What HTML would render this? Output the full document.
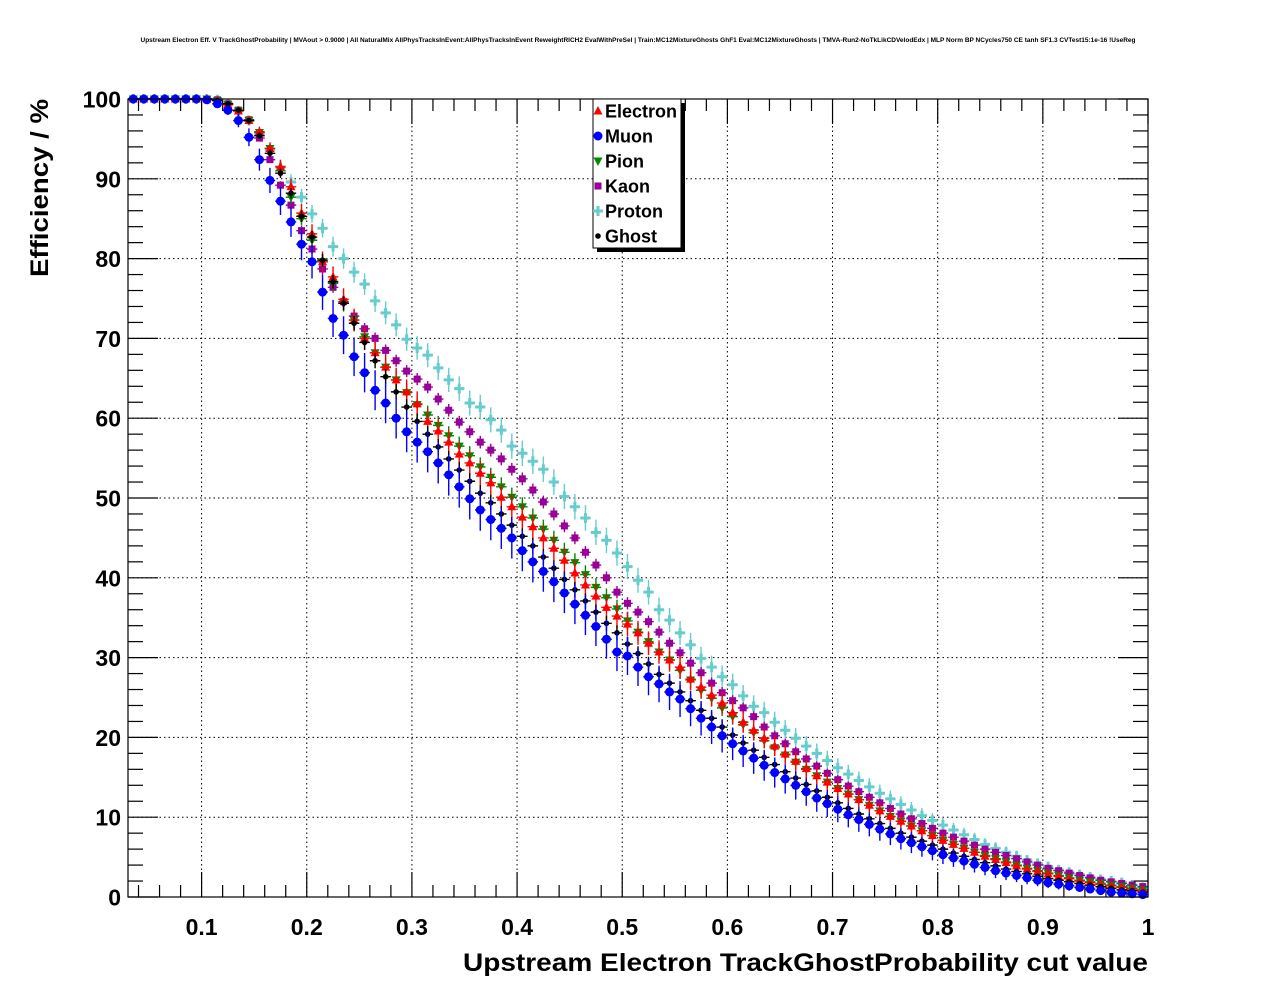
<!DOCTYPE html>
<html><head><meta charset="utf-8"><style>
html,body{margin:0;padding:0;background:#fff;}
svg{display:block;font-family:"Liberation Sans",sans-serif;}
</style></head><body>
<svg id="chart" width="1276" height="996" viewBox="0 0 1276 996" xmlns="http://www.w3.org/2000/svg">
<rect x="0" y="0" width="1276" height="996" fill="#fff"/>
<text x="638" y="42" font-size="6.5" font-weight="bold" text-anchor="middle">Upstream Electron Eff. V TrackGhostProbability | MVAout &gt; 0.9000 | All NaturalMix AllPhysTracksInEvent:AllPhysTracksInEvent ReweightRICH2 EvalWithPreSel | Train:MC12MixtureGhosts GhF1 Eval:MC12MixtureGhosts | TMVA-Run2-NoTkLikCDVelodEdx | MLP Norm BP NCycles750 CE tanh SF1.3 CVTest15:1e-16 !UseReg</text>
<g id="grid"></g>
<g id="ticks"></g>
<g id="series"></g>
<rect x="128" y="99" width="1020" height="798" fill="none" stroke="#000" stroke-width="1.2"/>
<g id="labels" font-weight="bold" font-size="23"></g>
<text transform="translate(48,99) rotate(-90)" text-anchor="end" font-size="25" font-weight="bold" textLength="178" lengthAdjust="spacingAndGlyphs">Efficiency / %</text>
<text x="1148" y="971" text-anchor="end" font-size="25" font-weight="bold" textLength="685" lengthAdjust="spacingAndGlyphs">Upstream Electron TrackGhostProbability cut value</text>
<g id="legend"></g>
</svg>
<script>
const xTicks = [0.1,0.2,0.3,0.4,0.5,0.6,0.7,0.8,0.9,1];
const xTickLabels = ["0.1","0.2","0.3","0.4","0.5","0.6","0.7","0.8","0.9","1"];
const yTicks = [0,10,20,30,40,50,60,70,80,90,100];
const yTickLabels = ["0","10","20","30","40","50","60","70","80","90","100"];
const seriesNames = ["Electron","Muon","Pion","Kaon","Proton","Ghost"];
const binStart = 0.035, binWidth = 0.01;
const electron = [100,100,100,100,100,100,100,100,99.8,99.3,98.5,97.3,95.9,93.8,91.5,89,85.7,83.1,79.6,77.7,74.9,72.3,70,68.2,66.4,64.8,63.3,61.8,59.6,58.4,57,55.5,54.4,53.1,51.9,50.1,48.9,47.6,46.4,45,43.7,42.2,40.6,39.1,37.7,36.3,35.2,34.2,33.1,31.8,30.7,29.7,28.8,27.3,26.3,25.3,24.3,23.1,21.9,20.9,19.9,18.9,17.9,17,16.1,15.2,14.4,13.6,12.9,12.2,11.5,10.8,10.1,9.5,8.9,8.3,7.7,7.1,6.6,6.1,5.6,5.1,4.7,4.3,3.9,3.5,3.2,2.9,2.6,2.3,2,1.8,1.6,1.4,1.2,1,0.8];
const muon = [100,100,100,100,100,100,100,99.9,99.4,98.6,97.3,95.2,92.4,89.8,87.2,84.6,81.8,79.6,75.8,72.5,70.4,67.7,65.7,63.5,61.9,60,58.3,57,55.8,54.4,52.9,51.4,49.9,48.5,47.3,46.2,45,43.4,42,40.8,39.5,38.1,36.7,35.3,33.9,32.3,30.7,30.2,28.8,27.6,26.7,25.7,24.8,23.6,22.4,21.3,20.2,19.2,18.3,17.4,16.5,15.6,14.8,14,13.2,12.4,11.7,11,10.3,9.7,9.1,8.5,7.9,7.3,6.8,6.3,5.8,5.3,4.9,4.5,4.1,3.7,3.3,3,2.7,2.4,2.1,1.8,1.6,1.4,1.2,1,0.8,0.6,0.5,0.4,0.3];
const pion = [100,100,100,100,100,100,100,100,99.8,99.3,98.5,97.3,95.8,93.8,91,87.7,85,82.3,79.6,76.9,74.4,72.3,70.2,68.2,66.4,64.8,63.2,61.7,60.4,59.1,57.8,56.5,55.3,53.9,52.6,51.4,50.1,48.9,47.5,46.1,44.7,43.2,41.9,40.4,38.8,37.5,36.1,34.6,33.2,32,30.7,29.7,28.4,27.2,25.9,24.9,23.7,22.6,21.6,20.6,19.6,18.7,17.8,16.9,16,15.2,14.4,13.6,12.9,12.2,11.5,10.8,10.1,9.5,8.9,8.3,7.7,7.1,6.6,6.1,5.6,5.2,4.8,4.4,4,3.6,3.3,3,2.7,2.4,2.1,1.9,1.7,1.5,1.3,1.1,0.9];
const kaon = [100,100,100,100,100,100,100,100,99.9,99.4,98.6,97.4,95.1,92.4,89.2,86.7,83.5,81.2,78.7,76.4,74.6,72.8,71.2,70,68.5,67.2,65.9,64.9,63.9,62.4,61,59.5,58.3,57,56,54.9,53.6,52.4,51,49.5,48,46.5,45,43.2,41.6,40,38.2,36.8,35.7,34.5,33.2,31.8,30.6,29.3,28.1,26.8,25.6,24.6,23.7,22.6,21.3,20.2,19.2,18.2,17.3,16.4,15.5,14.7,13.9,13.2,12.5,11.8,11.1,10.4,9.8,9.2,8.6,8,7.5,7,6.5,6,5.6,5.2,4.8,4.4,4,3.6,3.3,3,2.7,2.4,2.1,1.9,1.7,1.5,1.3];
const proton = [100,100,100,100,100,100,100,100,99.9,99.4,98.5,97.3,95.6,93.6,91.5,89.6,87.7,85.6,83.8,81.5,80,78.3,76.8,74.7,73.2,71.7,69.9,68.8,67.9,66.3,64.8,63.7,61.9,61.4,59.8,58.5,56.5,55.6,54.6,53.6,52,50.2,48.9,47.5,45.7,44.7,43.1,41.4,39.7,38.2,36,34.7,33.1,31.6,29.9,28.8,27.6,26.6,25.2,23.9,23.1,21.9,20.9,19.9,18.9,18,17.1,16.2,15.4,14.6,13.8,13,12.3,11.6,10.9,10.2,9.6,9,8.4,7.8,7.2,6.6,6.1,5.6,5.1,4.6,4.2,3.8,3.4,3.1,2.8,2.5,2.2,2,1.8,1.5,1.2];
const ghost = [100,100,100,100,100,100,100,100,99.8,99.4,98.6,97.3,95.4,93.2,90.7,88.2,85.3,82.7,79.8,77.1,74.4,71.9,69.5,67.2,65.2,63.3,61.4,59.6,58,56.4,54.9,53.5,52.1,50.6,49.4,48,46.6,45.2,44,42.6,41.2,39.8,38.5,37.1,35.7,34.3,33.1,31.7,30.5,29.2,27.9,26.8,25.7,24.6,23.4,22.4,21.3,20.3,19.3,18.4,17.5,16.6,15.7,14.9,14.1,13.3,12.5,11.8,11.1,10.4,9.8,9.2,8.6,8,7.5,7,6.5,6,5.5,5.1,4.7,4.3,3.9,3.5,3.2,2.9,2.6,2.3,2.1,1.9,1.7,1.5,1.3,1.1,0.9,0.8,0.6];
const errScale = [1.6,2.6,1.2,0.8,1.6,1.0];

const NS = "http://www.w3.org/2000/svg";
const PX0 = 128, PX1 = 1148, PY0 = 897, PY1 = 99, XMIN = 0.03, XMAX = 1.0, YMIN = 0, YMAX = 100;
function sx(v){ return PX0 + (v - XMIN) / (XMAX - XMIN) * (PX1 - PX0); }
function sy(v){ return PY0 - (v - YMIN) / (YMAX - YMIN) * (PY0 - PY1); }
function mk(tag, attrs, parent){ const e = document.createElementNS(NS, tag); for (const k in attrs) e.setAttribute(k, attrs[k]); parent.appendChild(e); return e; }

const grid = document.getElementById('grid');
const ticks = document.getElementById('ticks');
const labels = document.getElementById('labels');
xTicks.forEach((t, i) => {
  const x = sx(t);
  if (t < XMAX) {
    const g = mk('line', {x1:x, x2:x, y1:PY1, y2:PY0, stroke:'#000', 'stroke-width':1, 'stroke-dasharray':'1.5,3'}, grid);
    
    
  }
  const lb = mk('text', {x:x, y:935, 'text-anchor':'middle'}, labels);
  lb.textContent = xTickLabels[i];
  
  
});
for (let k = 0; k <= 48; k++) {
  const t = 0.04 + 0.02 * k;
  if (t > XMAX + 1e-9) break;
  const major = Math.abs(t * 10 - Math.round(t * 10)) < 1e-6;
  const len = major ? 25 : 12;
  const x = sx(t);
  mk('line', {x1:x, x2:x, y1:PY0, y2:PY0 - len, stroke:'#000', 'stroke-width':1.2}, ticks);
  mk('line', {x1:x, x2:x, y1:PY1, y2:PY1 + len, stroke:'#000', 'stroke-width':1.2}, ticks);
}
yTicks.forEach((t, i) => {
  const y = sy(t);
  if (t > YMIN && t < YMAX) {
    const g = mk('line', {x1:PX0, x2:PX1, y1:y, y2:y, stroke:'#000', 'stroke-width':1, 'stroke-dasharray':'1.5,3'}, grid);
    
    
  }
  const lb = mk('text', {x:121, y:y + 8.5, 'text-anchor':'end'}, labels);
  lb.textContent = yTickLabels[i];
  
  
});
for (let v = 0; v <= 100; v += 2) {
  const major = v % 10 === 0;
  const len = major ? 30 : 15;
  const y = sy(v);
  mk('line', {x1:PX0, x2:PX0 + len, y1:y, y2:y, stroke:'#000', 'stroke-width':1.2}, ticks);
  mk('line', {x1:PX1, x2:PX1 - len, y1:y, y2:y, stroke:'#000', 'stroke-width':1.2}, ticks);
}

const colors = ['#ff0000','#0000ff','#008800','#990099','#66cccc','#000000'];
const allData = [electron, muon, pion, kaon, proton, ghost];
function marker(kind, x, y, c, parent) {
  if (kind === 0) return mk('polygon', {points:`${x},${y-5} ${x-4.5},${y+3.5} ${x+4.5},${y+3.5}`, fill:c}, parent);
  if (kind === 1) return mk('circle', {cx:x, cy:y, r:4.5, fill:c}, parent);
  if (kind === 2) return mk('polygon', {points:`${x},${y+5} ${x-4.5},${y-3.5} ${x+4.5},${y-3.5}`, fill:c}, parent);
  if (kind === 3) return mk('rect', {x:x-3.5, y:y-3.5, width:7, height:7, fill:c}, parent);
  if (kind === 4) return mk('path', {d:`M${x-5},${y} L${x+5},${y} M${x},${y-5} L${x},${y+5}`, stroke:c, 'stroke-width':3}, parent);
  return mk('circle', {cx:x, cy:y, r:2.8, fill:c}, parent);
}
const seriesG = document.getElementById('series');
const order = [4,3,2,0,5,1];
order.forEach(s => {
  const g = mk('g', {}, seriesG);
  
  
  const c = colors[s];
  allData[s].forEach((v, i) => {
    const xv = binStart + binWidth * i;
    const x = sx(xv), y = sy(v);
    const e = errScale[s] * Math.sqrt(Math.max(v * (100 - v), 0)) / 50;
    const eb = mk('path', {d:`M${sx(xv - binWidth/2)},${y} L${sx(xv + binWidth/2)},${y} M${x},${sy(Math.min(v + e, 100))} L${x},${sy(Math.max(v - e, 0))}`, stroke:c, 'stroke-width':1.4, fill:'none'}, g);
    
    
    const m = marker(s, x, y, c, g);
    
    
  });
});

const leg = document.getElementById('legend');
mk('rect', {x:597, y:103, width:88, height:149, fill:'#000'}, leg);
mk('rect', {x:593, y:99, width:88, height:149, fill:'#fff', stroke:'#000', 'stroke-width':1}, leg);
seriesNames.forEach((n, s) => {
  const y = 111 + 25 * s;
  const m = marker(s, 598, y, colors[s], leg);
  
  
  const t = mk('text', {x:605, y:y + 6.5, 'font-size':18, 'font-weight':'bold'}, leg);
  t.textContent = n;
  
  
});
</script>
</body></html>
